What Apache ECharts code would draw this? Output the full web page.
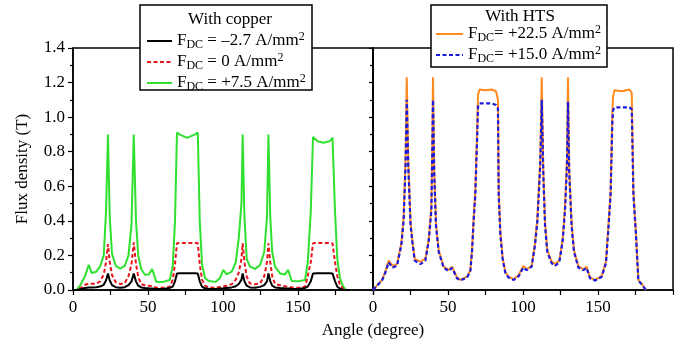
<!DOCTYPE html>
<html>
<head>
<meta charset="utf-8">
<script src="https://cdn.jsdelivr.net/npm/echarts@6/dist/echarts.min.js"></script>
<style>
  html, body { margin: 0; padding: 0; background: #fff; }
  #chart { width: 681px; height: 345px; }
</style>
</head>
<body>
<div id="chart"></div>
<script>
// ---- data ----
// left panel: with copper
const angleCu = [0, 2.5, 5, 8, 10.5, 12.5, 15.5, 18, 20.5, 22, 23.3, 24.5, 26, 28.5, 31.5, 34.5, 37, 39, 40.5, 42, 43.5, 45.5, 48, 50.5, 52.8, 55.5, 60, 64.5, 66.5, 68, 69.3, 71, 76, 81.5, 83.2, 84.5, 86, 88, 90.5, 95, 98, 100.2, 102.4, 105.8, 108.5, 110.5, 112.3, 113.1, 114.3, 115.8, 118, 121.3, 124.7, 127.5, 129.3, 130.3, 131.5, 132.8, 134.7, 138, 141.3, 143.5, 145.8, 150, 154.7, 156.5, 158.5, 160, 163, 167, 171, 173, 174.7, 176.2, 178, 180.2, 182, 185];
const fluxCuNeg = [0, 0, 0.005, 0.012, 0.014, 0.014, 0.016, 0.02, 0.03, 0.055, 0.096, 0.055, 0.028, 0.016, 0.013, 0.016, 0.028, 0.05, 0.096, 0.05, 0.025, 0.015, 0.012, 0.01, 0.009, 0.006, 0.006, 0.012, 0.02, 0.05, 0.096, 0.097, 0.097, 0.097, 0.096, 0.05, 0.02, 0.01, 0.007, 0.006, 0.009, 0.01, 0.012, 0.015, 0.022, 0.035, 0.06, 0.096, 0.05, 0.025, 0.015, 0.013, 0.018, 0.028, 0.05, 0.096, 0.05, 0.025, 0.015, 0.012, 0.01, 0.009, 0.007, 0.006, 0.012, 0.02, 0.05, 0.096, 0.097, 0.097, 0.097, 0.096, 0.05, 0.019, 0.008, 0, 0, 0];
const fluxCuZero = [0, 0, 0.01, 0.03, 0.037, 0.036, 0.036, 0.05, 0.09, 0.16, 0.265, 0.16, 0.087, 0.045, 0.035, 0.04, 0.08, 0.15, 0.275, 0.15, 0.075, 0.033, 0.028, 0.025, 0.022, 0.014, 0.013, 0.019, 0.06, 0.15, 0.27, 0.272, 0.272, 0.272, 0.27, 0.15, 0.06, 0.025, 0.015, 0.013, 0.018, 0.02, 0.025, 0.033, 0.06, 0.1, 0.18, 0.27, 0.16, 0.077, 0.037, 0.033, 0.038, 0.08, 0.16, 0.27, 0.16, 0.08, 0.035, 0.028, 0.022, 0.02, 0.015, 0.013, 0.019, 0.08, 0.16, 0.27, 0.272, 0.272, 0.272, 0.27, 0.16, 0.08, 0.029, 0.005, 0, 0];
const fluxCuPos = [0, 0, 0.03, 0.08, 0.145, 0.098, 0.106, 0.135, 0.2, 0.45, 0.9, 0.42, 0.21, 0.14, 0.124, 0.14, 0.2, 0.38, 0.9, 0.4, 0.2, 0.12, 0.088, 0.09, 0.121, 0.048, 0.047, 0.058, 0.14, 0.4, 0.91, 0.9, 0.88, 0.9, 0.91, 0.4, 0.15, 0.07, 0.052, 0.047, 0.07, 0.116, 0.09, 0.106, 0.16, 0.3, 0.5, 0.9, 0.42, 0.18, 0.135, 0.122, 0.145, 0.22, 0.42, 0.9, 0.42, 0.22, 0.135, 0.096, 0.09, 0.116, 0.052, 0.05, 0.058, 0.16, 0.45, 0.885, 0.86, 0.852, 0.86, 0.88, 0.45, 0.18, 0.067, 0.019, 0, 0];

// right panel: with HTS
const angleHts = [0, 3, 6, 8.2, 10.4, 13.1, 16, 18.9, 20.4, 21.7, 22.5, 23.5, 25, 26.2, 27.8, 31.6, 34.9, 37.1, 38.9, 39.4, 40, 40.8, 42, 43.8, 47.1, 50.4, 52.7, 56, 58.2, 62.7, 64.9, 66, 67.1, 68.2, 69.5, 70, 71, 75, 79, 82, 83.3, 83.8, 84.9, 86.4, 88.2, 90.4, 93.8, 97.1, 100.2, 102.4, 105.8, 108, 109.6, 111.5, 112.5, 113.5, 114.7, 116.2, 119.1, 121.3, 124.2, 126.4, 128, 129.3, 130, 130.8, 132.4, 134, 136.9, 140.2, 142.4, 144.7, 148, 152.4, 155.3, 156.9, 158.4, 159.5, 160, 161, 166, 171, 172.5, 173.6, 175.3, 176.9, 179.1, 182];
const fluxHts225 = [0, 0.03, 0.058, 0.106, 0.17, 0.139, 0.15, 0.27, 0.42, 0.75, 1.23, 0.75, 0.4, 0.29, 0.18, 0.164, 0.18, 0.29, 0.48, 0.75, 1.23, 0.7, 0.386, 0.23, 0.135, 0.116, 0.135, 0.073, 0.058, 0.077, 0.116, 0.23, 0.42, 0.57, 0.95, 1.13, 1.16, 1.155, 1.16, 1.15, 1.1, 0.57, 0.34, 0.19, 0.106, 0.077, 0.062, 0.087, 0.139, 0.12, 0.14, 0.27, 0.42, 0.75, 1.23, 0.7, 0.39, 0.23, 0.164, 0.15, 0.17, 0.29, 0.48, 0.75, 1.23, 0.7, 0.39, 0.23, 0.139, 0.12, 0.135, 0.073, 0.058, 0.08, 0.164, 0.37, 0.57, 1.0, 1.12, 1.155, 1.15, 1.16, 1.14, 0.57, 0.33, 0.058, 0.035, 0];
const fluxHts150 = [0, 0.028, 0.055, 0.1, 0.16, 0.13, 0.14, 0.26, 0.4, 0.72, 1.1, 0.72, 0.38, 0.28, 0.17, 0.15, 0.17, 0.28, 0.46, 0.72, 1.1, 0.68, 0.37, 0.22, 0.13, 0.11, 0.128, 0.068, 0.055, 0.072, 0.11, 0.22, 0.4, 0.55, 0.9, 1.06, 1.08, 1.08, 1.08, 1.07, 1.05, 0.55, 0.32, 0.18, 0.1, 0.072, 0.058, 0.08, 0.13, 0.115, 0.135, 0.26, 0.4, 0.72, 1.1, 0.68, 0.37, 0.22, 0.155, 0.14, 0.16, 0.28, 0.46, 0.72, 1.09, 0.68, 0.37, 0.22, 0.13, 0.115, 0.128, 0.068, 0.055, 0.075, 0.155, 0.35, 0.55, 0.95, 1.04, 1.056, 1.056, 1.056, 1.045, 0.55, 0.32, 0.055, 0.033, 0];

const cuLabels = ['\u20132.7', '0', '+7.5'];
const htsLabels = ['+22.5', '+15.0'];
const xTicks = [0, 50, 100, 150];

const FONT = "'Liberation Serif', 'Times New Roman', serif";

const pair = (xs, ys) => xs.map((x, i) => [x, ys[i]]);
const cuNames = cuLabels.map(v => 'FDC = ' + v + ' A/mm2');
const htsNames = htsLabels.map(v => 'FDC= ' + v + ' A/mm2');
const legendRich = {
  m: { fontFamily: FONT, fontSize: 17, lineHeight: 20, color: '#000' },
  s: { fontFamily: FONT, fontSize: 12, lineHeight: 12, color: '#000', verticalAlign: 'bottom' },
  p: { fontFamily: FONT, fontSize: 12, lineHeight: 12, color: '#000', verticalAlign: 'top' }
};
function richName(name) {
  const body = name.slice(3, name.length - 1); // between "FDC" and trailing "2"
  return '{m|F}{s|DC}{m|' + body + '}{p|2}';
}

function xAxisFor(gi) {
  return {
    type: 'value', gridIndex: gi, min: 0, max: 200, interval: 25,
    axisLine: { show: true, onZero: false, lineStyle: { color: '#000', width: 1.5 } },
    axisTick: { show: true, inside: false, length: 5, lineStyle: { color: '#000', width: 1.2 } },
    axisLabel: {
      color: '#000', fontFamily: FONT, fontSize: 17, margin: 9,
      formatter: v => xTicks.indexOf(v) >= 0 ? String(v) : ''
    },
    splitLine: { show: false }
  };
}
function yAxisFor(gi, labels) {
  return {
    type: 'value', gridIndex: gi, min: 0, max: 1.4, interval: 0.2,
    axisLine: { show: true, onZero: false, lineStyle: { color: '#000', width: 1.5 } },
    axisTick: { show: true, inside: false, length: labels ? 5 : 4, lineStyle: { color: '#000', width: 1.2 } },
    minorTick: { show: true, splitNumber: 2, length: 3, lineStyle: { color: '#000', width: 1.2 } },
    axisLabel: { show: labels, color: '#000', fontFamily: FONT, fontSize: 17, margin: 8, formatter: v => v.toFixed(1) },
    splitLine: { show: false },
    minorSplitLine: { show: false },
    name: labels ? 'Flux density (T)' : '',
    nameLocation: 'middle', nameGap: 42,
    nameTextStyle: { color: '#000', fontFamily: FONT, fontSize: 17 }
  };
}
function lineSeries(name, gi, xs, ys, color, width, dash) {
  return {
    name: name, type: 'line', xAxisIndex: gi, yAxisIndex: gi,
    data: pair(xs, ys), symbol: 'none', showSymbol: false, smooth: false,
    lineStyle: { color: color, width: width, type: dash ? [4, 2.5] : 'solid' },
    itemStyle: { color: color },
    emphasis: { disabled: true }
  };
}

const chart = echarts.init(document.getElementById('chart'), null, { renderer: 'canvas' });
chart.setOption({
  animation: false,
  backgroundColor: '#fff',
  grid: [
    { left: 73, top: 48, width: 300, height: 242, show: true, borderColor: '#000', borderWidth: 1.5, backgroundColor: 'transparent' },
    { left: 373, top: 48, width: 300, height: 242, show: true, borderColor: '#000', borderWidth: 1.5, backgroundColor: 'transparent' }
  ],
  xAxis: [xAxisFor(0), xAxisFor(1)],
  yAxis: [yAxisFor(0, true), yAxisFor(1, false)],
  legend: [
    {
      data: cuNames, orient: 'vertical', left: 146, top: 31,
      itemWidth: 25, itemHeight: 10, itemGap: 1, padding: 0, z: 6,
      itemStyle: { opacity: 0 },
      formatter: richName, textStyle: { rich: legendRich }, selectedMode: false
    },
    {
      data: htsNames, orient: 'vertical', left: 435, top: 24,
      itemWidth: 27, itemHeight: 10, itemGap: 1, padding: 0, z: 6,
      itemStyle: { opacity: 0 },
      formatter: richName, textStyle: { rich: legendRich }, selectedMode: false
    }
  ],
  graphic: [
    { type: 'rect', z: 4, shape: { x: 140, y: 5, width: 172, height: 85 }, style: { fill: '#fff', stroke: '#000', lineWidth: 1.5 } },
    { type: 'rect', z: 4, shape: { x: 431, y: 5, width: 176, height: 62 }, style: { fill: '#fff', stroke: '#000', lineWidth: 1.5 } },
    { type: 'text', z: 5, x: 230, y: 20, style: { text: 'With copper', font: '17px ' + FONT, fill: '#000', textAlign: 'center', textVerticalAlign: 'middle' } },
    { type: 'text', z: 5, x: 520, y: 17, style: { text: 'With HTS', font: '17px ' + FONT, fill: '#000', textAlign: 'center', textVerticalAlign: 'middle' } },
    { type: 'text', z: 5, x: 373, y: 331, style: { text: 'Angle (degree)', font: '17px ' + FONT, fill: '#000', textAlign: 'center', textVerticalAlign: 'middle' } }
  ],
  series: [
    lineSeries(cuNames[2], 0, angleCu, fluxCuPos, '#2fe02f', 2, false),
    lineSeries(cuNames[1], 0, angleCu, fluxCuZero, '#e8141c', 2, true),
    lineSeries(cuNames[0], 0, angleCu, fluxCuNeg, '#000000', 2, false),
    lineSeries(htsNames[0], 1, angleHts, fluxHts225, '#ff8a1e', 2, false),
    lineSeries(htsNames[1], 1, angleHts, fluxHts150, '#1a1ae0', 2.2, true)
  ]
});
</script>
</body>
</html>
